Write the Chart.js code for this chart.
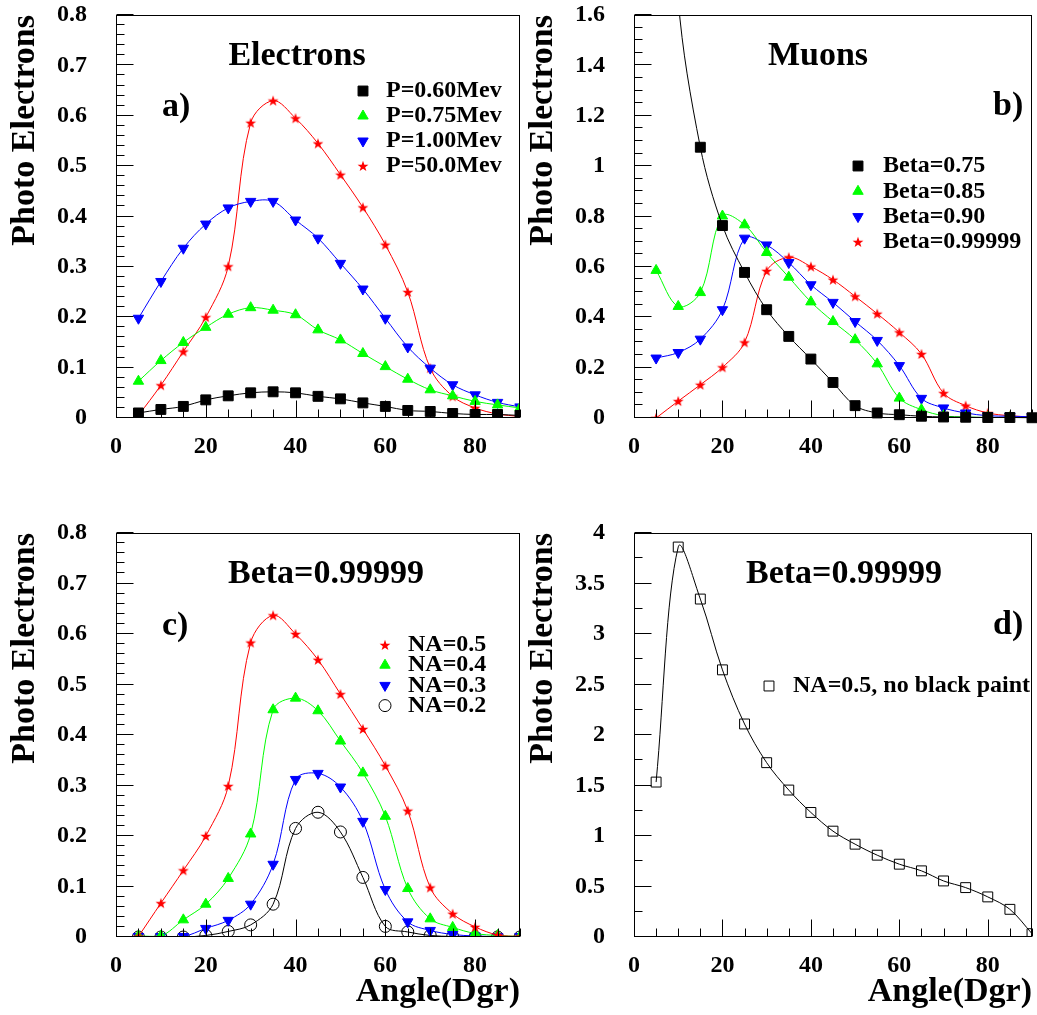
<!DOCTYPE html>
<html>
<head>
<meta charset="utf-8">
<script src="https://cdn.jsdelivr.net/npm/chart.js@4.4.1/dist/chart.umd.min.js"></script>
<style>
html, body { margin: 0; padding: 0; background: #fff; overflow: hidden; width: 1037px; height: 1015px; }
canvas { position: absolute; }
</style>
</head>
<body>
<canvas id="pa" width="530" height="500" style="left:0;top:0"></canvas>
<canvas id="pb" width="522" height="500" style="left:518px;top:0"></canvas>
<canvas id="pc" width="530" height="497" style="left:0;top:518px"></canvas>
<canvas id="pd" width="522" height="497" style="left:518px;top:518px"></canvas>
<script>
// angles (degrees) shared by every panel
const angles = [5, 10, 15, 20, 25, 30, 35, 40, 45, 50, 55, 60, 65, 70, 75, 80, 85, 90]

// a) electrons
const elecP060 = [0.010, 0.017, 0.023, 0.036, 0.044, 0.050, 0.052, 0.050, 0.043, 0.038, 0.030, 0.023, 0.015, 0.013, 0.009, 0.007, 0.007, 0.005]
const elecP075 = [0.073, 0.114, 0.150, 0.180, 0.206, 0.219, 0.214, 0.205, 0.175, 0.155, 0.128, 0.102, 0.077, 0.056, 0.044, 0.033, 0.026, 0.020]
const elecP100 = [0.198, 0.271, 0.337, 0.385, 0.417, 0.430, 0.430, 0.393, 0.357, 0.307, 0.256, 0.198, 0.141, 0.099, 0.066, 0.046, 0.031, 0.022]
const elecP500 = [0.005, 0.065, 0.132, 0.200, 0.301, 0.586, 0.630, 0.595, 0.545, 0.483, 0.418, 0.344, 0.250, 0.099, 0.043, 0.020, 0.008, 0.003]

// b) muons
const muB075 = [3.2, 1.66, 1.075, 0.764, 0.578, 0.430, 0.324, 0.234, 0.141, 0.049, 0.020, 0.013, 0.007, 0.004, 0.003, 0.002, 0.002, 0.001]
const muB085 = [0.586, 0.443, 0.498, 0.802, 0.767, 0.657, 0.559, 0.461, 0.383, 0.311, 0.215, 0.079, 0.033, 0.009, 0.004, 0.002, 0.001, 0.001]
const muB090 = [0.238, 0.260, 0.313, 0.430, 0.714, 0.687, 0.617, 0.529, 0.459, 0.383, 0.308, 0.208, 0.078, 0.040, 0.020, 0.009, 0.007, 0.005]
const muB99999 = [0.000, 0.067, 0.132, 0.201, 0.300, 0.584, 0.638, 0.601, 0.549, 0.483, 0.414, 0.340, 0.254, 0.099, 0.049, 0.020, 0.009, 0.004]

// c) beta=0.99999, numerical aperture
const na05 = [0.001, 0.067, 0.132, 0.200, 0.299, 0.583, 0.637, 0.600, 0.549, 0.481, 0.412, 0.339, 0.250, 0.098, 0.046, 0.020, 0.004, 0.001]
const na04 = [0.002, 0.002, 0.034, 0.065, 0.116, 0.204, 0.450, 0.473, 0.448, 0.388, 0.325, 0.239, 0.096, 0.036, 0.019, 0.007, 0.003, 0.001]
const na03 = [0.001, 0.001, 0.001, 0.017, 0.033, 0.065, 0.144, 0.312, 0.324, 0.297, 0.229, 0.094, 0.030, 0.013, 0.005, 0.002, 0.001, 0.001]
const na02 = [0.000, 0.000, 0.000, 0.003, 0.011, 0.024, 0.065, 0.215, 0.247, 0.208, 0.118, 0.021, 0.010, 0.003, 0.001, 0.000, 0.000, 0.000]

// d) no black paint
const noPaint = [1.534, 3.861, 3.346, 2.645, 2.109, 1.726, 1.455, 1.233, 1.048, 0.919, 0.810, 0.721, 0.655, 0.555, 0.489, 0.397, 0.274, 0.033]

const FONT = '"Liberation Serif", "Times New Roman", serif'
const RED = "#ff0000", GREEN = "#00ff00", BLUE = "#0000ff", BLACK = "#000000"

function starImage(color) {
    const c = document.createElement("canvas")
    c.width = 12
    c.height = 12
    const g = c.getContext("2d")
    g.fillStyle = color
    g.beginPath()
    for (let i = 0; i < 10; i++) {
        const r = i % 2 ? 2.3 : 5.7
        const ang = -Math.PI / 2 + i * Math.PI / 5
        g.lineTo(6 + r * Math.cos(ang), 6.5 + r * Math.sin(ang))
    }
    g.closePath()
    g.fill()
    return c
}
const redStar = starImage(RED)

function points(values) {
    return angles.map((a, i) => ({ x: a, y: values[i] }))
}

function series(label, values, color, style, extra) {
    return Object.assign({
        label: label,
        data: points(values),
        borderColor: color,
        borderWidth: 1,
        pointStyle: style,
        pointRadius: 6,
        pointBorderWidth: 1,
        pointBorderColor: color,
        pointBackgroundColor: color,
        pointRotation: 0,
    }, extra || {})
}

// frame, inner ticks, titles and legend
const decor = {
    id: "decor",
    afterDraw(chart, args, opts) {
        const { ctx, chartArea: a } = chart
        const x = chart.scales.x, y = chart.scales.y
        ctx.save()
        ctx.strokeStyle = "#000"
        ctx.lineWidth = 1
        const l = Math.round(a.left) + 0.5, t = Math.round(a.top) + 0.5
        const r = Math.round(a.right) - 0.5, b = Math.round(a.bottom) - 0.5
        ctx.strokeRect(l, t, r - l, b - t)
        ctx.beginPath()
        const nY = Math.round(opts.yMax / opts.yMinor)
        const per = Math.round(opts.yMajor / opts.yMinor)
        for (let i = 0; i <= nY; i++) {
            const py = Math.round(y.getPixelForValue(i * opts.yMinor)) - 0.5
            ctx.moveTo(l, py)
            ctx.lineTo(l + (i % per === 0 ? 17 : 8), py)
        }
        for (let v = 0; v <= 90; v += 5) {
            const px = Math.round(x.getPixelForValue(v)) + 0.5
            ctx.moveTo(px, b)
            ctx.lineTo(px, b - (v % 20 === 0 ? 17 : 8))
        }
        ctx.stroke()

        ctx.fillStyle = "#000"
        ctx.textBaseline = "middle"
        ctx.font = "bold 34px " + FONT
        ctx.textAlign = "center"
        ctx.fillText(opts.title, opts.titleX, 56)
        ctx.textAlign = "left"
        ctx.fillText(opts.tag, opts.tagX, opts.tagY)

        ctx.font = "bold 24px " + FONT
        for (let i = 0; i < opts.legend.length; i++) {
            const ds = chart.data.datasets[opts.legend[i]]
            const yy = opts.legY + i * opts.legDy
            ctx.fillStyle = ds.pointBackgroundColor
            ctx.strokeStyle = ds.pointBorderColor
            ctx.lineWidth = ds.pointBorderWidth
            Chart.helpers.drawPoint(ctx, {
                pointStyle: ds.pointStyle,
                radius: ds.pointRadius,
                rotation: ds.pointRotation,
                borderWidth: ds.pointBorderWidth
            }, opts.legX, yy)
            ctx.fillStyle = "#000"
            ctx.fillText(ds.label, opts.legTextX, yy)
        }
        ctx.restore()
    }
}

function makeConfig(datasets, yMax, yStep, yMinor, xTitle, axisHeight, padRight, decorOpts) {
    return {
        type: "line",
        data: { datasets: datasets },
        plugins: [decor],
        options: {
            responsive: false,
            animation: false,
            layout: { padding: { left: 0, top: 15, right: padRight, bottom: 0 } },
            elements: { line: { tension: 0.35 } },
            plugins: {
                legend: { display: false },
                tooltip: { enabled: false },
                decor: Object.assign({ yMax: yMax, yMajor: yStep, yMinor: yMinor }, decorOpts)
            },
            scales: {
                x: {
                    type: "linear",
                    min: 0,
                    max: 90,
                    grid: { display: false },
                    border: { display: false },
                    ticks: {
                        stepSize: 20,
                        includeBounds: false,
                        padding: 6,
                        color: "#000",
                        font: { family: FONT, size: 24, weight: "bold" }
                    },
                    title: {
                        display: !!xTitle,
                        text: xTitle || "",
                        align: "end",
                        color: "#000",
                        padding: { top: 0, bottom: 2 },
                        font: { family: FONT, size: 34, weight: "bold" }
                    },
                    afterFit: scale => {
                        scale.height = axisHeight
                        scale.paddingLeft = 0
                        scale.paddingRight = 0
                    }
                },
                y: {
                    min: 0,
                    max: yMax,
                    grid: { display: false },
                    border: { display: false },
                    ticks: {
                        stepSize: yStep,
                        padding: 21,
                        color: "#000",
                        font: { family: FONT, size: 24, weight: "bold" },
                        callback: v => String(Math.round(v * 100) / 100)
                    },
                    title: {
                        display: true,
                        text: "Photo Electrons",
                        align: "end",
                        color: "#000",
                        padding: { top: 5, bottom: 0 },
                        font: { family: FONT, size: 34, weight: "bold" }
                    },
                    afterFit: scale => {
                        scale.width = 116
                        scale.paddingTop = 0
                        scale.paddingBottom = 0
                    }
                }
            }
        }
    }
}

const graphA = new Chart(document.querySelector("#pa"), makeConfig([
    series("P=0.60Mev", elecP060, BLACK, "rect", { pointRadius: 7 }),
    series("P=0.75Mev", elecP075, GREEN, "triangle"),
    series("P=1.00Mev", elecP100, BLUE, "triangle", { pointRotation: 180 }),
    series("P=50.0Mev", elecP500, RED, redStar),
], 0.8, 0.1, 0.02, null, 82, 10, {
    title: "Electrons", titleX: 297, tag: "a)", tagX: 162, tagY: 107,
    legend: [0, 1, 2, 3], legX: 363, legTextX: 386, legY: 91, legDy: 25
}))

const graphB = new Chart(document.querySelector("#pb"), makeConfig([
    series("Beta=0.75", muB075, BLACK, "rect", { pointRadius: 7, clip: { left: 8, top: 0, right: 8, bottom: 8 } }),
    series("Beta=0.85", muB085, GREEN, "triangle"),
    series("Beta=0.90", muB090, BLUE, "triangle", { pointRotation: 180 }),
    series("Beta=0.99999", muB99999, RED, redStar),
], 1.6, 0.2, 0.05, null, 82, 2, {
    title: "Muons", titleX: 300, tag: "b)", tagX: 475, tagY: 106,
    legend: [0, 1, 2, 3], legX: 340, legTextX: 365, legY: 166, legDy: 25.3
}))

const graphC = new Chart(document.querySelector("#pc"), makeConfig([
    series("NA=0.5", na05, RED, redStar),
    series("NA=0.4", na04, GREEN, "triangle"),
    series("NA=0.3", na03, BLUE, "triangle", { pointRotation: 180 }),
    series("NA=0.2", na02, BLACK, "circle", { pointBackgroundColor: "rgba(0,0,0,0)" }),
], 0.8, 0.1, 0.02, "Angle(Dgr)", 78, 10, {
    title: "Beta=0.99999", titleX: 326, tag: "c)", tagX: 162, tagY: 108,
    legend: [0, 1, 2, 3], legX: 385, legTextX: 408, legY: 127, legDy: 20.2
}))

const graphD = new Chart(document.querySelector("#pd"), makeConfig([
    series("NA=0.5, no black paint", noPaint, BLACK, "rect", { pointRadius: 7, pointBackgroundColor: "rgba(0,0,0,0)" }),
], 4, 0.5, 0.25, "Angle(Dgr)", 78, 2, {
    title: "Beta=0.99999", titleX: 326, tag: "d)", tagX: 475, tagY: 107,
    legend: [0], legX: 251, legTextX: 275, legY: 168, legDy: 20
}))
</script>
</body>
</html>
